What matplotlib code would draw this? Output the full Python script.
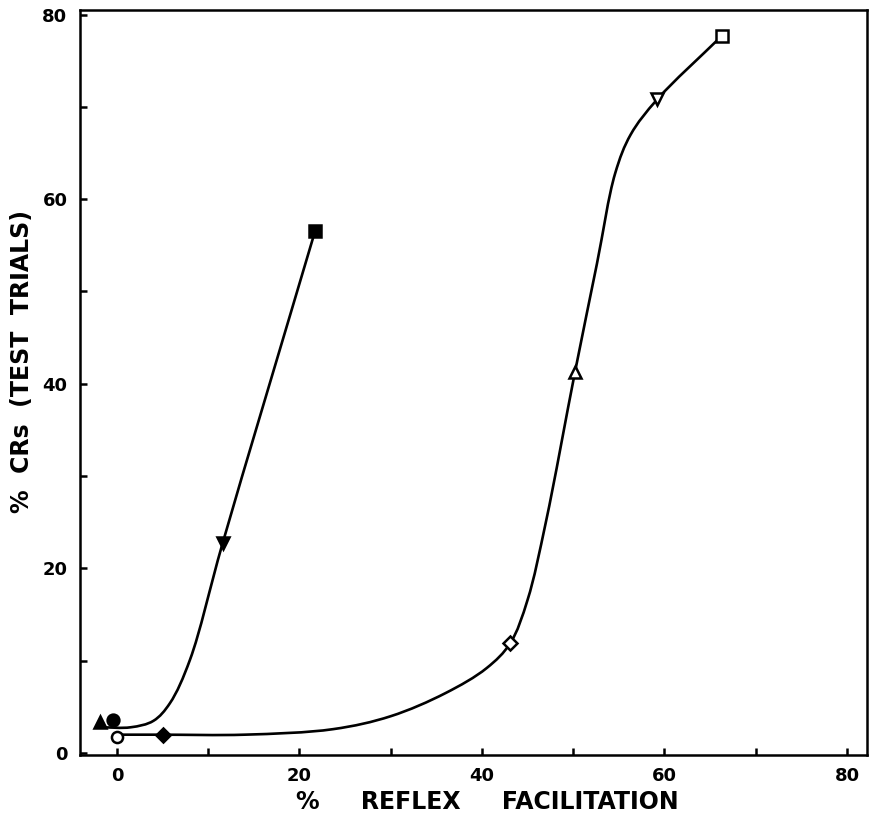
import numpy as np
import matplotlib
matplotlib.use("Agg")
import matplotlib.pyplot as plt
from matplotlib.path import Path
from matplotlib.patches import PathPatch

# curve traced through the filled-symbol group
curve1_x = [-1.8, 1.5, 4.0, 5.8, 8.0, 11.6, 21.7]
curve1_y = [2.8, 2.8, 3.5, 5.4, 10.1, 22.8, 56.5]

# curve traced through the open-symbol group
curve2_x = [0.0, 5.0, 14.0, 23.7, 30.0, 36.0, 40.5, 43.1, 45.0,
            47.0, 50.2, 52.6, 54.6, 56.3, 59.2, 66.3]
curve2_y = [2.0, 2.0, 2.0, 2.6, 4.0, 6.5, 9.2, 11.9, 16.6,
            25.0, 41.3, 53.0, 62.8, 67.0, 70.8, 77.7]

# plotted symbols
pts_x = [-1.9, -0.4, 11.6, 21.7, 0.0, 5.0, 43.1, 50.2, 59.2, 66.3]
pts_y = [3.4, 3.6, 22.8, 56.5, 1.8, 2.0, 11.9, 41.3, 70.8, 77.7]
pts_marker = ['^', 'o', 'v', 's', 'o', 'D', 'D', '^', 'v', 's']
pts_filled = [True, True, True, True, False, True, False, False, False, False]
pts_size = [8.5, 8.5, 8.5, 8.5, 8, 7.5, 7.5, 8.5, 8.5, 8.5]


def smooth_path(xs, ys, alpha=0.5):
    # centripetal catmull-rom through the traced points, as bezier segments
    p = np.column_stack([xs, ys]).astype(float)
    p = np.vstack([2 * p[0] - p[1], p, 2 * p[-1] - p[-2]])
    verts = [p[1]]
    codes = [Path.MOVETO]
    for i in range(1, len(p) - 2):
        p0, p1, p2, p3 = p[i - 1], p[i], p[i + 1], p[i + 2]
        d1 = np.linalg.norm(p1 - p0) ** alpha
        d2 = np.linalg.norm(p2 - p1) ** alpha
        d3 = np.linalg.norm(p3 - p2) ** alpha
        c1 = (d1 ** 2 * p2 - d2 ** 2 * p0 + (2 * d1 ** 2 + 3 * d1 * d2 + d2 ** 2) * p1) / (3 * d1 * (d1 + d2))
        c2 = (d3 ** 2 * p1 - d2 ** 2 * p3 + (2 * d3 ** 2 + 3 * d3 * d2 + d2 ** 2) * p2) / (3 * d3 * (d3 + d2))
        verts += [c1, c2, p2]
        codes += [Path.CURVE4] * 3
    return Path(verts, codes)


plt.rcParams['font.family'] = ['DejaVu Sans']
plt.rcParams['font.weight'] = 'bold'

fig = plt.figure(figsize=(8.75, 8.17), dpi=100)
ax = fig.add_axes([0.0914, 0.0759, 0.8995, 0.912])

for xs, ys in [(curve1_x, curve1_y), (curve2_x, curve2_y)]:
    ax.add_patch(PathPatch(smooth_path(xs, ys), facecolor='none',
                           edgecolor='black', lw=1.9, zorder=2))

for x, y, m, f, s in zip(pts_x, pts_y, pts_marker, pts_filled, pts_size):
    ax.plot(x, y, marker=m, ms=s, mec='black', mew=1.8,
            mfc='black' if f else 'white', zorder=3, linestyle='none')

ax.set_xlim(-4.05, 82.2)
ax.set_ylim(-0.2, 80.5)
ax.set_xticks(np.arange(0, 81, 10))
ax.set_xticklabels(['0', '', '20', '', '40', '', '60', '', '80'])
ax.set_yticks(np.arange(0, 81, 10))
ax.set_yticklabels(['0', '', '20', '', '40', '', '60', '', '80'])
ax.tick_params(direction='in', length=5, width=1.8, labelsize=13, pad=9)
for lab in ax.get_xticklabels() + ax.get_yticklabels():
    lab.set_fontweight('bold')
for sp in ax.spines.values():
    sp.set_linewidth(1.8)

fig.text(0.557, 0.018, '%     REFLEX     FACILITATION', fontsize=17,
         fontweight='bold', ha='center', va='center')
fig.text(0.025, 0.557, '%  CRs  (TEST  TRIALS)', fontsize=17,
         fontweight='bold', ha='center', va='center', rotation=90)

fig.savefig('out.png', dpi=100)
